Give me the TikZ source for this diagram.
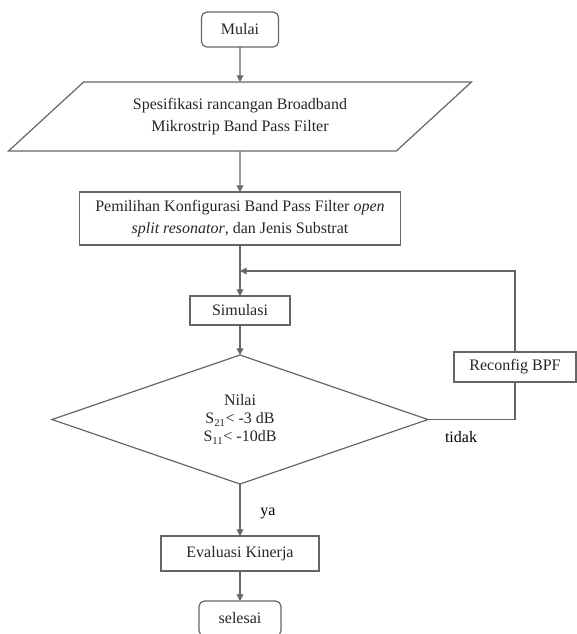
\documentclass[tikz,border=0pt]{standalone}
\usepackage{fontspec}
\setmainfont{Liberation Serif}
\usetikzlibrary{shapes.geometric, arrows.meta, positioning}

\begin{document}
\begin{tikzpicture}[
    x=0.75pt, y=-0.75pt,
    font=\fontsize{12pt}{16.5pt}\selectfont,
    fbox/.style={rectangle, draw=black!60, line width=0.9pt, inner sep=2pt, outer sep=0pt, align=center, text=black!85},
    tbox/.style={fbox, rounded corners=4pt},
    pbox/.style={trapezium, trapezium left angle=35.5, trapezium right angle=144.5, trapezium stretches=true, draw=black!60, line width=0.9pt, inner sep=0pt, outer sep=0pt, align=center, text=black!85},
    dbox/.style={diamond, draw=black!60, line width=0.9pt, inner sep=0pt, outer sep=0pt, align=center, text=black!85, font=\fontsize{12pt}{13.5pt}\selectfont},
    farrow/.style={-{Triangle[length=5pt, width=5pt]}, draw=black!60, line width=0.9pt},
    fline/.style={draw=black!60, line width=0.9pt}
]
\useasboundingbox (0,0) rectangle (577,634);
% main chain
\node[tbox, minimum width=57.75pt, minimum height=26.25pt] (mulai) at (240,29.5) {Mulai};
\node[pbox, minimum width=348pt, minimum height=51.75pt, below=26.25pt of mulai] (spek) {Spesifikasi rancangan Broadband\\Mikrostrip Band Pass Filter};
\node[fbox, minimum width=240.75pt, minimum height=39.75pt, below=30.75pt of spek] (konfig) {Pemilihan Konfigurasi Band Pass Filter \textit{open}\\\textit{split resonator}, dan Jenis Substrat};
\node[fbox, minimum width=75pt, minimum height=21.75pt, below=38.25pt of konfig] (sim) {Simulasi};
\node[dbox, minimum width=282pt, minimum height=96.75pt, below=22.5pt of sim] (dec) {Nilai\\S\textsubscript{21}< -3 dB\\S\textsubscript{11}< -10dB};
\node[fbox, minimum width=118.5pt, minimum height=26.25pt, below=39pt of dec] (eval) {Evaluasi Kinerja};
\node[tbox, minimum width=61.5pt, minimum height=26.25pt, below=22.5pt of eval] (selesai) {selesai};
% loop back
\node[fbox, minimum width=91.5pt, minimum height=22.5pt] (reconf) at (515,367) {Reconfig BPF};
\coordinate[below=19.5pt of konfig] (join);
\draw[farrow] (mulai) -- (spek);
\draw[farrow] (spek) -- (konfig);
\draw[farrow] (konfig) -- (sim);
\draw[farrow] (sim) -- (dec);
\draw[farrow] (dec) -- (eval);
\draw[farrow] (eval) -- (selesai);
\draw[fline] (dec.east) -| (reconf.south);
\draw[farrow] (reconf.north) |- (join);
\node (tidak) at (461,437) {tidak};
\node (ya) at (268,513) {ya};
\end{tikzpicture}
\end{document}
